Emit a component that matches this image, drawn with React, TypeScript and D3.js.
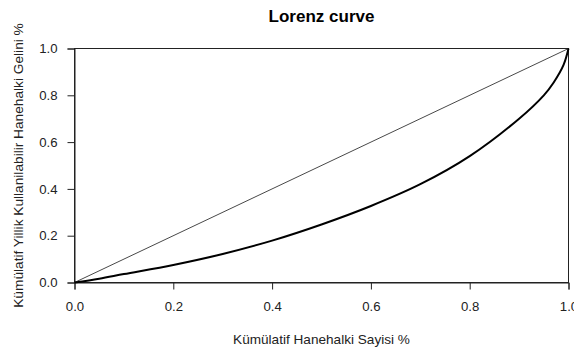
import React, { useEffect, useRef } from "react";
import * as d3 from "d3";

// Cumulative share of households (x) and of disposable income (y)
const householdShare = [0, 0.05, 0.1, 0.2, 0.3, 0.4, 0.5, 0.6, 0.7, 0.8, 0.9, 0.95, 0.97, 0.99, 1];
const incomeShare = [0, 0.016, 0.036, 0.075, 0.122, 0.179, 0.248, 0.327, 0.42, 0.54, 0.70, 0.80, 0.855, 0.93, 1];

// Line of perfect equality
const equalityX = [0, 1];
const equalityY = [0, 1];

const tickValues = [0, 0.2, 0.4, 0.6, 0.8, 1.0];

const title = "Lorenz curve";
const xLabel = "Kümülatif Hanehalki Sayisi %";
const yLabel = "Kümülatif Yillik Kullanilabilir Hanehalki Gelini %";

const W = 574;
const H = 351;
const margin = { left: 74.5, right: 5.5, top: 48.5, bottom: 68.5 };
const FONT = "'Liberation Sans', Arial, sans-serif";

export default function App() {
  const ref = useRef<SVGSVGElement>(null);

  useEffect(() => {
    const svg = d3.select(ref.current);
    svg.selectAll("*").remove();

    const x = d3.scaleLinear().domain([0, 1]).range([margin.left, W - margin.right]);
    const y = d3.scaleLinear().domain([0, 1]).range([H - margin.bottom, margin.top]);

    // Plot frame
    svg.append("rect")
      .attr("x", x(0)).attr("y", y(1))
      .attr("width", x(1) - x(0)).attr("height", y(0) - y(1))
      .attr("fill", "none").attr("stroke", "#222").attr("stroke-width", 1);

    // Axes
    const xAxis = d3.axisBottom(x).tickValues(tickValues).tickFormat(d3.format(".1f")).tickSize(7).tickPadding(12);
    const yAxis = d3.axisLeft(y).tickValues(tickValues).tickFormat(d3.format(".1f")).tickSize(7).tickPadding(10);

    const gx = svg.append("g").attr("transform", `translate(0,${y(0)})`).call(xAxis);
    const gy = svg.append("g").attr("transform", `translate(${x(0)},0)`).call(yAxis);
    [gx, gy].forEach((g) => {
      g.select(".domain").attr("stroke", "#222");
      g.selectAll(".tick line").attr("stroke", "#222");
      g.selectAll(".tick text").attr("fill", "#222").attr("font-family", FONT).attr("font-size", 13.2);
    });

    const toXY = d3.line<[number, number]>().x((d) => x(d[0])).y((d) => y(d[1]));

    // Equality diagonal
    svg.append("path")
      .attr("d", toXY(equalityX.map((v, i) => [v, equalityY[i]] as [number, number])))
      .attr("fill", "none").attr("stroke", "#333").attr("stroke-width", 0.9);

    // Lorenz curve
    const pts: [number, number][] = householdShare.map((v, i) => [v, incomeShare[i]]);
    svg.append("path")
      .attr("d", toXY.curve(d3.curveCatmullRom.alpha(0.5))(pts))
      .attr("fill", "none").attr("stroke", "#000").attr("stroke-width", 2);

    // Title and axis labels
    svg.append("text")
      .attr("x", (x(0) + x(1)) / 2).attr("y", 22)
      .attr("text-anchor", "middle").attr("font-family", FONT)
      .attr("font-weight", "bold").attr("font-size", 17).attr("fill", "#000")
      .text(title);

    svg.append("text")
      .attr("x", (x(0) + x(1)) / 2).attr("y", 344)
      .attr("text-anchor", "middle").attr("font-family", FONT)
      .attr("font-size", 13.6).attr("fill", "#222")
      .text(xLabel);

    svg.append("text")
      .attr("transform", `translate(23,${(y(0) + y(1)) / 2}) rotate(-90)`)
      .attr("text-anchor", "middle").attr("font-family", FONT)
      .attr("font-size", 13.7).attr("fill", "#222")
      .text(yLabel);
  }, []);

  return (
    <svg
      ref={ref}
      width={W}
      height={H}
      style={{ position: "absolute", left: 0, top: 0, background: "#fff" }}
    />
  );
}
